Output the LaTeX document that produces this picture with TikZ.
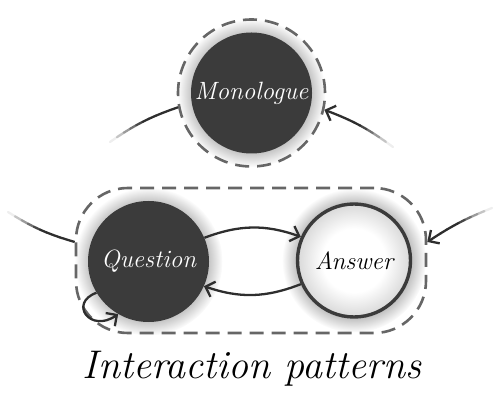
\documentclass[tikz,border=0pt]{standalone}
\usetikzlibrary{arrows.meta,fadings}
\definecolor{stateDark}{HTML}{3B3B3B}
\definecolor{ringGray}{HTML}{666666}
\definecolor{lineDark}{HTML}{2E2E2E}
\pgfdeclareradialshading{answerShade}{\pgfpoint{0bp}{0bp}}{color(0bp)=(white); color(14bp)=(white); color(25bp)=(black!15); color(50bp)=(black!15)}

\begin{document}
\begin{tikzpicture}[x=1pt, y=1pt,
		darkState/.style={circle, fill=stateDark, minimum size=121pt, inner sep=0pt, text=white, font=\fontsize{25}{30}\selectfont\itshape},
		lightState/.style={circle, draw=stateDark, line width=3.4pt, shading=answerShade, minimum size=113pt, inner sep=0pt, font=\fontsize{25}{30}\selectfont\itshape},
		groupLine/.style={draw=ringGray, line width=2.6pt, dash pattern=on 14pt off 8pt},
		glow/.style={fill=black!24, path fading=circle with fuzzy edge 20 percent},
		barbTip/.style={-{Straight Barb[length=8pt, width=16pt, line width=2.3pt]}},
		fadeFlow/.style={draw=lineDark, line width=2.3pt},
		flow/.style={fadeFlow, barbTip}]
	\useasboundingbox (0,0) rectangle (494,401);

	\coordinate (monologuePos) at (251.5,308);
	\coordinate (questionPos) at (148.5,139.5);
	\coordinate (answerPos) at (354,140.5);

	% soft halos behind the states
	\fill[glow] (monologuePos) circle (74);
	\fill[glow] (questionPos) circle (74);
	\fill[glow] (answerPos) circle (72);

	\node[circle, groupLine, minimum size=147pt](monologueRing) at (monologuePos){};
	\node[rectangle, groupLine, rounded corners=52pt, minimum width=350pt, minimum height=145pt](dialogueBox) at (251,140.5){};

	\node[darkState](monologue) at (monologuePos){Monologue};
	\node[darkState](question) at (questionPos){Question};
	\node[lightState](answer) at (answerPos){Answer};

	% faded connectors between the groups
	\coordinate (leftTopEnd) at (110,259);
	\coordinate (rightTopEnd) at (393,254);
	\coordinate (leftBottomEnd) at (8,189);
	\coordinate (rightBottomEnd) at (492,193);
	\foreach \pt in {0,...,10}{
		\path (leftTopEnd) to[bend left=8] coordinate[pos=\pt/10] (lt\pt) (monologueRing.191);
		\path (rightTopEnd) to[bend right=8] coordinate[pos=\pt/10] (rt\pt) (monologueRing.347);
		\path (leftBottomEnd) to[bend right=8] coordinate[pos=\pt/10] (lb\pt) (dialogueBox.174);
		\path (rightBottomEnd) to[bend right=6] coordinate[pos=\pt/10] (rb\pt) (dialogueBox.6);
	}
	\foreach \seg in {0,...,8}{
		\pgfmathtruncatemacro{\nextSeg}{\seg+1}
		\pgfmathtruncatemacro{\tone}{min(100,8+20*\seg)}
		\draw[fadeFlow, draw=lineDark!\tone!white, line cap=round] (lt\seg) -- (lt\nextSeg);
		\draw[fadeFlow, draw=lineDark!\tone!white, line cap=round] (rt\seg) -- (rt\nextSeg);
		\draw[fadeFlow, draw=lineDark!\tone!white, line cap=round] (lb\seg) -- (lb\nextSeg);
		\draw[fadeFlow, draw=lineDark!\tone!white, line cap=round] (rb\seg) -- (rb\nextSeg);
	}
	\draw[fadeFlow] (lt9) -- (lt10);
	\draw[flow] (rt9) -- (rt10);
	\draw[fadeFlow] (lb9) -- (lb10);
	\draw[flow] (rb9) -- (rb10);

	\draw[flow] (question.23) to[bend left=20] (answer.156);
	\draw[flow] (answer.204) to[bend left=20] (question.336);
	\draw[flow] (question.211) .. controls +(200:30) and +(215:34) .. (question.240);

	\node[anchor=base, font=\fontsize{40}{48}\selectfont\itshape](title) at (252,23){Interaction patterns};
\end{tikzpicture}
\end{document}
